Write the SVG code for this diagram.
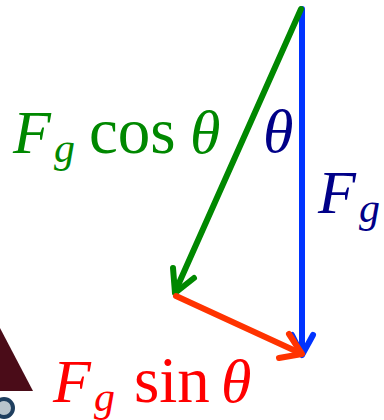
<svg xmlns="http://www.w3.org/2000/svg" width="384" height="420" viewBox="0 0 384 420">
<style>
text{font-family:"Liberation Serif","DejaVu Serif",serif;}
.it{font-style:italic;}
.big{font-size:62px;}
.rom{font-size:65px;}
.sub{font-size:42px;}
.vec{fill:none;stroke-width:6;stroke-linecap:round;stroke-linejoin:round;}
.green{fill:#008800;}
.navy{fill:#000088;}
.red{fill:#ff0000;}
</style>
<rect width="384" height="420" fill="#ffffff"/>
<g id="background-fragment">
<polygon points="0,328 33,391 0,391" fill="#4a0c18"/>
<circle cx="4" cy="408" r="9" fill="#b8c4cc" stroke="#1f3f5f" stroke-width="4"/>
</g>
<g id="connectors">
<g id="vec-Fg">
<line class="vec" x1="302" y1="9" x2="302" y2="354" stroke="#0033ff"/>
<polyline class="vec" points="292,335 302,355 313,335" stroke="#0033ff"/>
</g>
<g id="vec-cos">
<line class="vec" x1="301" y1="9" x2="175" y2="292" stroke="#008800"/>
<polyline class="vec" points="173,268 175,293 194,278" stroke="#008800"/>
</g>
<g id="vec-sin">
<line class="vec" x1="176" y1="296" x2="300" y2="353" stroke="#ff3300"/>
<polyline class="vec" points="289,334 302,354 279,358" stroke="#ff3300"/>
</g>
</g>
<g id="label-cos" class="green">
<text class="it big" x="13" y="153">F</text>
<text class="it sub" x="54" y="162">g</text>
<text class="rom" x="89" y="153">cos</text>
<text class="it big" x="190" y="153">θ</text>
</g>
<g id="label-theta" class="navy">
<text class="it big" x="263" y="152">θ</text>
</g>
<g id="label-Fg" class="navy">
<text class="it big" x="318" y="213">F</text>
<text class="it sub" x="359" y="222">g</text>
</g>
<g id="label-sin" class="red">
<text class="it big" x="53" y="402">F</text>
<text class="it sub" x="94" y="411">g</text>
<text class="rom" x="134" y="402">sin</text>
<text class="it big" x="221" y="402">θ</text>
</g>
</svg>
